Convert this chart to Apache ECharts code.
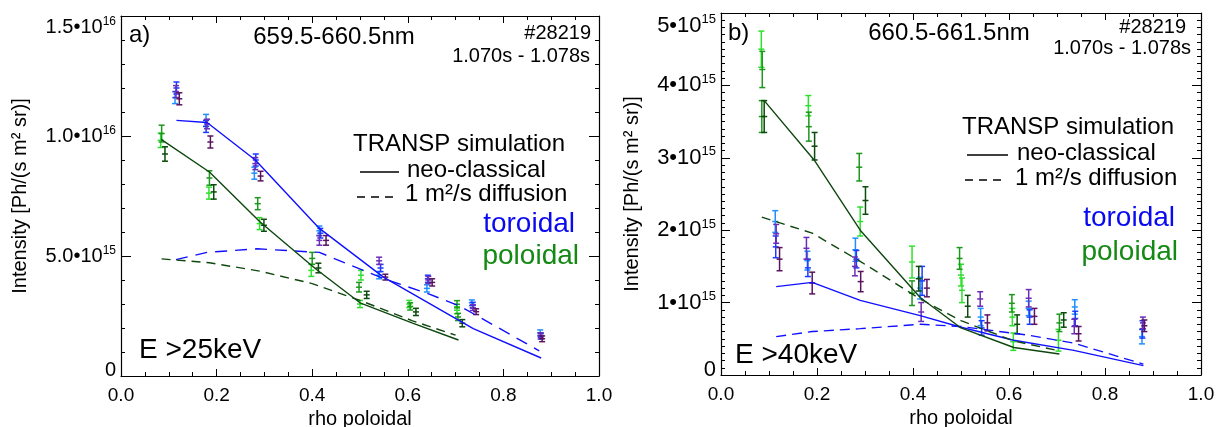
<!DOCTYPE html>
<html>
<head>
<meta charset="utf-8">
<script src="https://cdn.jsdelivr.net/npm/echarts@6/dist/echarts.min.js"></script>
<style>html,body{margin:0;padding:0;background:#fff;}#c{width:1219px;height:427px;}</style>
</head>
<body>
<div id="c"></div>
<script>
// ---------------- DATA (intensity in units of 1e15 Ph/(s m^2 sr)) ----------------
// error-bar points: [rho, value, error]
// Panel a) 659.5-660.5nm, E > 25keV
const lightblueA  = [[0.113,11.6,0.25],[0.178,10.65,0.25],[0.279,8.45,0.25],[0.415,6.05,0.2],[0.540,4.2,0.15],[0.640,3.65,0.15],[0.734,3.05,0.12],[0.877,1.8,0.12]];
const blueA       = [[0.116,12.0,0.25],[0.178,10.4,0.25],[0.282,9.0,0.25],[0.417,5.95,0.2],[0.543,4.5,0.15],[0.642,4.05,0.15],[0.736,2.95,0.12],[0.878,1.66,0.12]];
const purpleA     = [[0.115,11.85,0.25],[0.180,10.5,0.2],[0.281,8.85,0.25],[0.415,5.65,0.2],[0.540,4.8,0.15],[0.643,4.0,0.15],[0.736,2.85,0.12],[0.878,1.7,0.1]];
const darkpurpleA = [[0.122,11.55,0.25],[0.187,9.75,0.25],[0.292,8.33,0.2],[0.429,5.65,0.2],[0.553,4.12,0.12],[0.651,3.9,0.15],[0.743,2.68,0.12],[0.881,1.55,0.12]];
const lightgreenA = [[0.083,9.82,0.3],[0.184,7.62,0.25],[0.290,6.35,0.25],[0.398,4.4,0.25],[0.502,4.2,0.2],[0.500,3.0,0.15],[0.603,3.0,0.15],[0.703,2.74,0.15]];
const greenA      = [[0.085,10.1,0.35],[0.185,8.25,0.3],[0.286,7.18,0.25],[0.400,4.9,0.25],[0.498,3.7,0.2],[0.605,2.9,0.15],[0.703,2.99,0.15],[0.705,2.46,0.15]];
const darkgreenA  = [[0.092,9.25,0.3],[0.194,7.67,0.3],[0.299,6.28,0.25],[0.413,4.5,0.2],[0.514,3.38,0.15],[0.617,2.67,0.15],[0.714,2.2,0.15]];
// TRANSP simulation curves: [rho, value]
const torNeoA  = [[0.116,10.65],[0.180,10.56],[0.281,9.0],[0.415,6.15],[0.549,4.12],[0.737,1.97],[0.879,0.75]];
const torDiffA = [[0.115,4.85],[0.180,5.15],[0.285,5.3],[0.415,5.15],[0.550,4.05],[0.640,3.45],[0.710,2.9],[0.875,1.05]];
const polNeoA  = [[0.084,9.86],[0.185,8.5],[0.291,6.42],[0.405,4.5],[0.500,3.05],[0.610,2.2],[0.706,1.5]];
const polDiffA = [[0.085,4.88],[0.185,4.72],[0.290,4.37],[0.400,3.85],[0.500,3.15],[0.610,2.3],[0.700,1.7]];

// Panel b) 660.5-661.5nm, E > 40keV
const lightblueB  = [[0.113,2.12,0.15],[0.180,1.58,0.13],[0.280,1.73,0.16],[0.415,1.2,0.15],[0.541,0.8,0.12],[0.641,0.92,0.1],[0.737,0.94,0.1],[0.877,0.53,0.1]];
const blueB       = [[0.114,1.77,0.15],[0.181,1.48,0.12],[0.282,1.6,0.12],[0.419,1.3,0.2],[0.543,0.65,0.1],[0.643,0.8,0.1],[0.738,0.78,0.1],[0.878,0.63,0.12]];
const purpleB     = [[0.115,1.95,0.13],[0.178,1.75,0.15],[0.279,1.5,0.13],[0.417,0.87,0.13],[0.540,1.05,0.1],[0.641,1.06,0.12],[0.736,0.67,0.1],[0.879,0.72,0.08]];
const darkpurpleB = [[0.122,1.6,0.16],[0.190,1.27,0.15],[0.291,1.29,0.14],[0.429,1.2,0.12],[0.555,0.72,0.11],[0.653,0.81,0.11],[0.745,0.57,0.1],[0.882,0.68,0.08]];
const lightgreenB = [[0.084,4.5,0.25],[0.182,3.72,0.14],[0.290,2.12,0.2],[0.398,1.56,0.22],[0.500,1.38,0.15],[0.502,1.17,0.17],[0.607,0.8,0.12],[0.609,0.46,0.12],[0.703,0.48,0.15]];
const greenB      = [[0.086,4.22,0.25],[0.085,3.57,0.22],[0.183,3.43,0.2],[0.288,2.87,0.19],[0.398,1.13,0.17],[0.497,1.61,0.15],[0.606,0.99,0.12],[0.705,0.72,0.12]];
const darkgreenB  = [[0.090,3.57,0.22],[0.195,3.16,0.19],[0.301,2.41,0.19],[0.412,1.33,0.17],[0.514,0.95,0.15],[0.617,0.7,0.13],[0.714,0.76,0.1]];
const torNeoB  = [[0.115,1.22],[0.190,1.28],[0.290,1.03],[0.415,0.82],[0.500,0.66],[0.610,0.48],[0.735,0.34],[0.880,0.13]];
const torDiffB = [[0.115,0.53],[0.190,0.6],[0.290,0.64],[0.415,0.7],[0.500,0.67],[0.640,0.55],[0.735,0.44],[0.880,0.15]];
const polNeoB  = [[0.090,3.79],[0.194,2.97],[0.290,2.0],[0.415,1.07],[0.500,0.65],[0.610,0.38],[0.705,0.29]];
const polDiffB = [[0.085,2.18],[0.190,1.96],[0.290,1.57],[0.415,1.05],[0.500,0.75],[0.610,0.47],[0.700,0.34]];

// tick labels
const yTickValsA = [0, 5, 10, 15];
const yTickMantA = ['0', '5.0\u202210', '1.0\u202210', '1.5\u202210'];
const yTickExpA  = ['', '15', '16', '16'];
const yTickValsB = [0, 1, 2, 3, 4, 5];
const yTickMantB = ['0', '1\u202210', '2\u202210', '3\u202210', '4\u202210', '5\u202210'];
const yTickExpB  = ['', '15', '15', '15', '15', '15'];
const xTitle = 'rho poloidal';
const yTitle = 'Intensity [Ph/(s m\u00b2 sr)]';

// ---------------- CHART ----------------
const FONT = '"Liberation Sans", Arial, Helvetica, sans-serif';
const C = {
  lightblue: '#1E90FF', blue: '#1B3BFF', purple: '#6B2DB8', darkpurple: '#5A145E',
  lightgreen: '#2EE02E', green: '#1C981C', darkgreen: '#0D4A0D',
  lineBlue: '#1010FF', lineGreen: '#0E470E'
};

function errSeries(data, color, xi, yi) {
  return {
    type: 'custom', xAxisIndex: xi, yAxisIndex: yi, data: data, z: 3,
    encode: { x: 0, y: 1 },
    renderItem: function (params, api) {
      const x = api.value(0), y = api.value(1), e = api.value(2);
      const c = api.coord([x, y]), t = api.coord([x, y + e]), b = api.coord([x, y - e]);
      const w = 3, st = { stroke: color, lineWidth: 1.5 };
      return { type: 'group', children: [
        { type: 'line', shape: { x1: c[0], y1: t[1], x2: c[0], y2: b[1] }, style: st },
        { type: 'line', shape: { x1: c[0] - w, y1: t[1], x2: c[0] + w, y2: t[1] }, style: st },
        { type: 'line', shape: { x1: c[0] - w, y1: b[1], x2: c[0] + w, y2: b[1] }, style: st },
        { type: 'line', shape: { x1: c[0] - w, y1: c[1], x2: c[0] + w, y2: c[1] }, style: st }
      ]};
    }
  };
}
function lineSeries(data, color, dash, xi, yi) {
  return { type: 'line', xAxisIndex: xi, yAxisIndex: yi, data: data, showSymbol: false, symbol: 'none',
    z: 4, silent: true, animation: false,
    lineStyle: { color: color, width: 1.4, type: dash || 'solid' } };
}
function yFmt(vals, mant, exp) {
  return function (v) {
    const i = vals.findIndex(function (t) { return Math.abs(t - v) < 1e-9; });
    if (i < 0) return '';
    if (i === 0) return '{z|' + mant[i] + '}';
    return exp[i] ? '{m|' + mant[i] + '}{s|' + exp[i] + '}' : '{m|' + mant[i] + '}';
  };
}
function richY(mSize, sSize) {
  return {
    m: { fontSize: mSize, fontFamily: FONT, color: '#000', lineHeight: mSize + 3 },
    z: { fontSize: mSize, fontFamily: FONT, color: '#000', lineHeight: mSize + 3, padding: [0, 0, 11, 0] },
    s: { fontSize: sSize, fontFamily: FONT, color: '#000', verticalAlign: 'top', lineHeight: sSize }
  };
}
function xAxes(gi) {
  const base = { type: 'value', gridIndex: gi, min: 0, max: 1, interval: 0.2,
    axisLine: { show: true, onZero: false, lineStyle: { color: '#000', width: 1.2 } },
    axisTick: { show: true, inside: true, length: 7, lineStyle: { color: '#000', width: 1 } },
    minorTick: { show: true, splitNumber: 4, length: 4, lineStyle: { color: '#000', width: 1 } },
    splitLine: { show: false } };
  return [
    Object.assign({}, base, { position: 'bottom',
      axisLabel: { show: true, margin: 10, fontSize: 19, fontFamily: FONT, color: '#000',
        formatter: function (v) { return v.toFixed(1); } },
      name: xTitle, nameLocation: 'middle', nameGap: 30,
      nameTextStyle: { fontSize: 20, fontFamily: FONT, color: '#000' } }),
    Object.assign({}, base, { position: 'top', axisLabel: { show: false } })
  ];
}
function yAxes(gi, max, interval, minorSplit, vals, mant, exp, nameGap, majLen, mSize, sSize) {
  const base = { type: 'value', gridIndex: gi, min: 0, max: max, interval: interval,
    axisLine: { show: true, onZero: false, lineStyle: { color: '#000', width: 1.2 } },
    axisTick: { show: true, inside: true, length: majLen, lineStyle: { color: '#000', width: 1 } },
    minorTick: { show: true, splitNumber: minorSplit, length: 4, lineStyle: { color: '#000', width: 1 } },
    splitLine: { show: false } };
  return [
    Object.assign({}, base, { position: 'left',
      axisLabel: { show: true, margin: 5, fontSize: mSize, fontFamily: FONT, color: '#000',
        formatter: yFmt(vals, mant, exp), rich: richY(mSize, sSize), verticalAlignMaxLabel: 'top' },
      name: yTitle, nameLocation: 'middle', nameRotate: 90, nameGap: nameGap,
      nameTextStyle: { fontSize: 20, fontFamily: FONT, color: '#000' } }),
    Object.assign({}, base, { position: 'right', axisLabel: { show: false } })
  ];
}

function txt(x, y, s, size, align, color) {
  return { type: 'text', x: x, y: y, z: 10, silent: true,
    style: { text: s, fontSize: size, fontFamily: FONT, fill: color || '#000',
      textAlign: align || 'left', textVerticalAlign: 'middle' } };
}
function seg(x1, x2, y, dash) {
  return { type: 'line', z: 10, silent: true, shape: { x1: x1, y1: y, x2: x2, y2: y },
    style: { stroke: '#000', lineWidth: 1.6, lineDash: dash || null } };
}

const option = {
  animation: false,
  backgroundColor: '#fff',
  grid: [
    { left: 121, top: 16, width: 478, height: 360, containLabel: false, outerBoundsMode: 'none' },
    { left: 721, top: 13, width: 480, height: 362, containLabel: false, outerBoundsMode: 'none' }
  ],
  xAxis: xAxes(0).concat(xAxes(1)),
  yAxis: yAxes(0, 15, 5, 5, yTickValsA, yTickMantA, yTickExpA, 91, 10, 20, 12)
    .concat(yAxes(1, 5, 1, 10, yTickValsB, yTickMantB, yTickExpB, 79, 9, 22, 13)),
  series: [
    lineSeries(torNeoA, C.lineBlue, 'solid', 0, 0),
    lineSeries(torDiffA, C.lineBlue, [12, 8], 0, 0),
    lineSeries(polNeoA, C.lineGreen, 'solid', 0, 0),
    lineSeries(polDiffA, C.lineGreen, [9, 6], 0, 0),
    errSeries(lightblueA, C.lightblue, 0, 0),
    errSeries(blueA, C.blue, 0, 0),
    errSeries(purpleA, C.purple, 0, 0),
    errSeries(darkpurpleA, C.darkpurple, 0, 0),
    errSeries(lightgreenA, C.lightgreen, 0, 0),
    errSeries(greenA, C.green, 0, 0),
    errSeries(darkgreenA, C.darkgreen, 0, 0),

    lineSeries(torNeoB, C.lineBlue, 'solid', 2, 2),
    lineSeries(torDiffB, C.lineBlue, [10, 6], 2, 2),
    lineSeries(polNeoB, C.lineGreen, 'solid', 2, 2),
    lineSeries(polDiffB, C.lineGreen, [9, 6], 2, 2),
    errSeries(lightblueB, C.lightblue, 2, 2),
    errSeries(blueB, C.blue, 2, 2),
    errSeries(purpleB, C.purple, 2, 2),
    errSeries(darkpurpleB, C.darkpurple, 2, 2),
    errSeries(lightgreenB, C.lightgreen, 2, 2),
    errSeries(greenB, C.green, 2, 2),
    errSeries(darkgreenB, C.darkgreen, 2, 2)
  ],
  graphic: [
    // panel a
    txt(129, 35, 'a)', 24),
    txt(334, 37, '659.5-660.5nm', 24, 'center'),
    txt(591, 33, '#28219', 20, 'right'),
    txt(590, 56, '1.070s - 1.078s', 20, 'right'),
    txt(353, 144, 'TRANSP simulation', 24),
    seg(360, 399, 172),
    txt(407, 170, 'neo-classical', 24),
    seg(357, 398, 197, [8, 6]),
    txt(405, 194, '1 m\u00b2/s diffusion', 24),
    txt(575, 224, 'toroidal', 28, 'right', '#0A0AF0'),
    txt(579, 256, 'poloidal', 28, 'right', '#148A14'),
    txt(139, 350, 'E >25keV', 28),
    // panel b
    txt(728, 33, 'b)', 24),
    txt(949, 33, '660.5-661.5nm', 24, 'center'),
    txt(1186, 27, '#28219', 20, 'right'),
    txt(1191, 48, '1.070s - 1.078s', 20, 'right'),
    txt(962, 127, 'TRANSP simulation', 24),
    seg(967, 1008, 155),
    txt(1017, 153, 'neo-classical', 24),
    seg(965, 1007, 180, [8, 6]),
    txt(1015, 178, '1 m\u00b2/s diffusion', 24),
    txt(1175, 218, 'toroidal', 28, 'right', '#0A0AF0'),
    txt(1178, 252, 'poloidal', 28, 'right', '#148A14'),
    txt(735, 355, 'E >40keV', 28)
  ]
};
const chart = echarts.init(document.getElementById('c'), null, { renderer: 'canvas' });
chart.setOption(option);
</script>
</body>
</html>
